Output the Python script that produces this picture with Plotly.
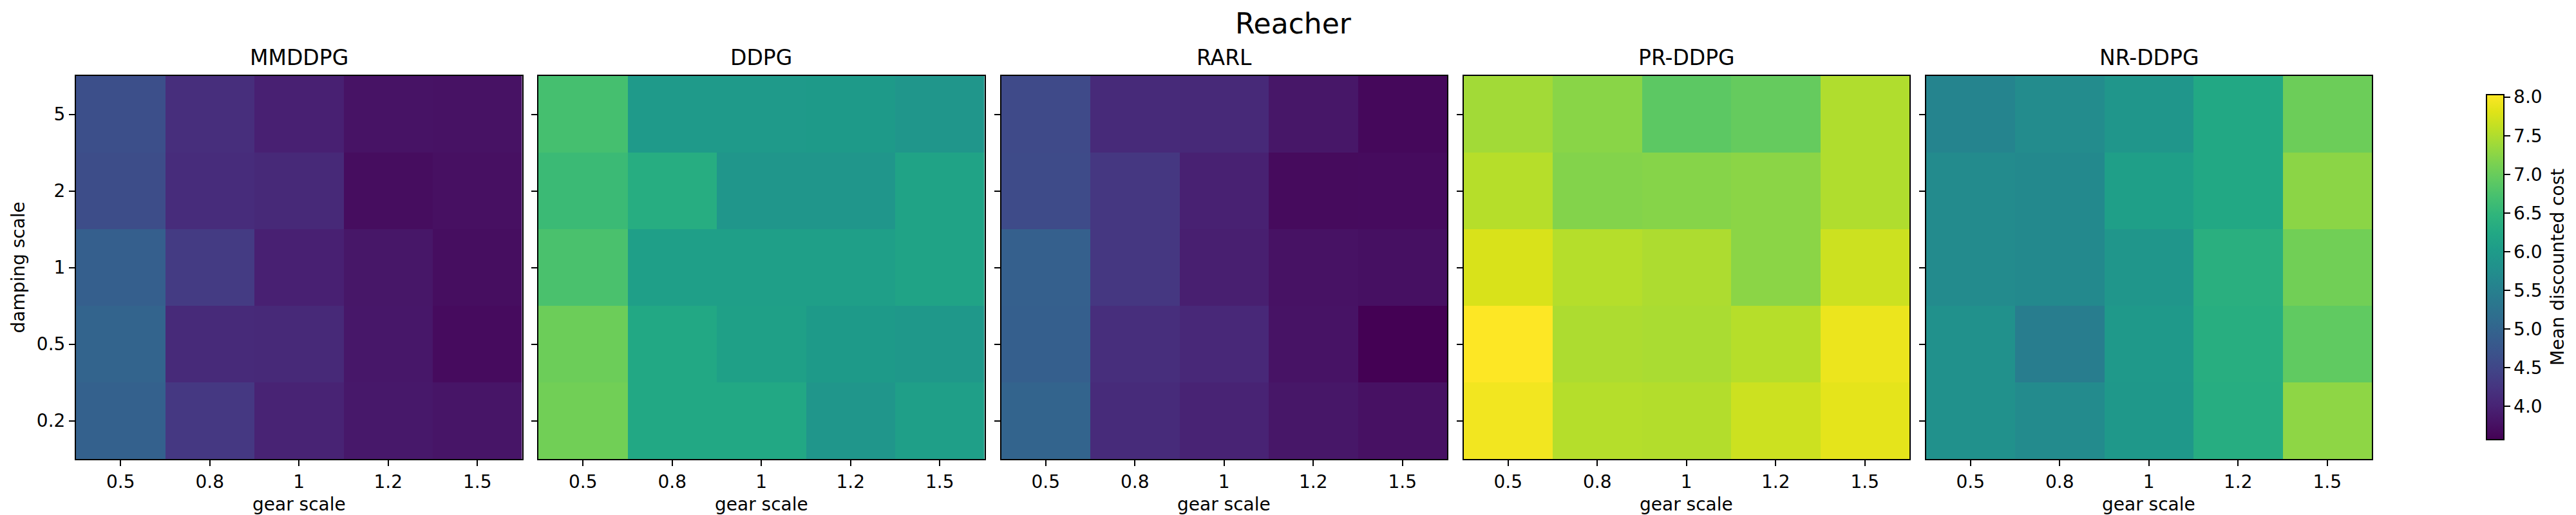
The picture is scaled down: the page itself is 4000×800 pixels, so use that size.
import plotly.graph_objects as go

# ---------------- data ----------------
gear_scale = ["0.5", "0.8", "1", "1.2", "1.5"]
damping_scale = ["0.2", "0.5", "1", "2", "5"]   # bottom -> top
methods = ["MMDDPG", "DDPG", "RARL", "PR-DDPG", "NR-DDPG"]

mmddpg = [
    [4.95, 4.30, 4.00, 3.86, 3.82],
    [5.00, 4.10, 4.08, 3.85, 3.70],
    [4.91, 4.33, 3.97, 3.84, 3.73],
    [4.60, 4.13, 4.08, 3.72, 3.76],
    [4.64, 4.15, 3.97, 3.79, 3.78],
]
ddpg = [
    [7.07, 6.25, 6.25, 5.90, 6.07],
    [7.03, 6.25, 6.10, 5.99, 5.95],
    [6.74, 6.07, 6.07, 6.07, 6.15],
    [6.60, 6.33, 5.90, 5.90, 6.15],
    [6.70, 5.98, 5.98, 5.99, 5.90],
]
rarl = [
    [5.00, 4.12, 4.00, 3.84, 3.77],
    [4.90, 4.15, 4.07, 3.79, 3.57],
    [4.92, 4.28, 3.95, 3.78, 3.75],
    [4.58, 4.28, 3.98, 3.69, 3.70],
    [4.55, 4.10, 4.08, 3.84, 3.66],
]
pr_ddpg = [
    [7.95, 7.53, 7.52, 7.68, 7.85],
    [8.03, 7.48, 7.46, 7.54, 7.90],
    [7.77, 7.53, 7.48, 7.25, 7.68],
    [7.54, 7.20, 7.22, 7.25, 7.50],
    [7.41, 7.24, 6.90, 6.97, 7.50],
]
nr_ddpg = [
    [5.80, 5.70, 5.95, 6.33, 7.27],
    [5.80, 5.45, 5.97, 6.35, 6.93],
    [5.70, 5.67, 5.90, 6.38, 7.07],
    [5.70, 5.67, 6.07, 6.25, 7.25],
    [5.58, 5.71, 5.90, 6.24, 7.03],
]
cbar_ticks = [4.0, 4.5, 5.0, 5.5, 6.0, 6.5, 7.0, 7.5, 8.0]

data = [mmddpg, ddpg, rarl, pr_ddpg, nr_ddpg]
all_vals = [v for z in data for row in z for v in row]
zmin, zmax = min(all_vals), max(all_vals)

# matplotlib viridis sampled every 5 %
viridis_hex = ["#440154", "#471365", "#482475", "#463480", "#414487", "#3b528b",
               "#355f8d", "#2f6c8e", "#2a788e", "#25848e", "#21918c", "#1e9c89",
               "#22a884", "#2fb47c", "#44bf70", "#5ec962", "#7ad151", "#9bd93c",
               "#bddf26", "#dfe318", "#fde725"]
viridis = [[i / (len(viridis_hex) - 1), c] for i, c in enumerate(viridis_hex)]

# ---------------- layout geometry (pixels) ----------------
W, H = 4000, 800


def px(xw):
    return xw / W


def py(yw):
    return 1 - yw / H


FONT = "DejaVu Sans"
panel_left = [110, 828, 1546.5, 2264.5, 2982.5]
panel_w = 692.5
panel_top, panel_bottom = 110, 705

fig = go.Figure()
annotations = []
for i, (name, z) in enumerate(zip(methods, data)):
    ax = "" if i == 0 else str(i + 1)
    fig.add_trace(go.Heatmap(
        x=gear_scale, y=damping_scale, z=z,
        coloraxis="coloraxis", xaxis="x" + ax, yaxis="y" + ax,
        hovertemplate="gear %{x}<br>damping %{y}<br>%{z:.2f}<extra>" + name + "</extra>",
    ))
    x0 = px(panel_left[i])
    x1 = px(panel_left[i] + panel_w)
    common = dict(showline=True, mirror=True, linecolor="black", linewidth=2,
                  ticks="outside", ticklen=9, tickwidth=2, tickcolor="black",
                  showgrid=False, zeroline=False, type="category",
                  tickfont=dict(family=FONT, size=28, color="black"))
    fig.update_layout(**{
        "xaxis" + ax: dict(domain=[x0, x1], anchor="y" + ax, **common),
        "yaxis" + ax: dict(domain=[py(panel_bottom), py(panel_top)],
                           anchor="x" + ax, showticklabels=(i == 0), **common),
    })
    annotations.append(dict(text=name, x=(x0 + x1) / 2, y=py(81),
                            xref="paper", yref="paper", showarrow=False,
                            xanchor="center", yanchor="middle",
                            font=dict(family=FONT, size=33, color="black")))
    annotations.append(dict(text="gear scale", x=(x0 + x1) / 2, y=py(775),
                            xref="paper", yref="paper", showarrow=False,
                            xanchor="center", yanchor="middle",
                            font=dict(family=FONT, size=28, color="black")))

annotations.append(dict(text="damping scale", x=px(20), y=py((panel_top + panel_bottom) / 2),
                        xref="paper", yref="paper", showarrow=False, textangle=-90,
                        xanchor="center", yanchor="middle",
                        font=dict(family=FONT, size=28, color="black")))
annotations.append(dict(text="Reacher", x=px(2000), y=py(28),
                        xref="paper", yref="paper", showarrow=False,
                        xanchor="center", yanchor="middle",
                        font=dict(family=FONT, size=44, color="black")))
annotations.append(dict(text="Mean discounted cost", x=px(3963), y=py(407),
                        xref="paper", yref="paper", showarrow=False, textangle=-90,
                        xanchor="center", yanchor="middle",
                        font=dict(family=FONT, size=28, color="black")))

fig.update_layout(
    width=W, height=H,
    margin=dict(l=0, r=0, t=0, b=0),
    paper_bgcolor="white", plot_bgcolor="white",
    font=dict(family=FONT, color="black"),
    annotations=annotations,
    coloraxis=dict(
        colorscale=viridis, cmin=zmin, cmax=zmax,
        colorbar=dict(
            x=px(3853), xanchor="left", xpad=0,
            y=py(407), yanchor="middle", ypad=0,
            len=(675 - 139) / H, lenmode="fraction",
            thickness=27, thicknessmode="pixels",
            outlinewidth=2, outlinecolor="black",
            ticks="outside", ticklen=9, tickwidth=2, tickcolor="black",
            tickvals=cbar_ticks, ticktext=[f"{v:.1f}" for v in cbar_ticks],
            tickfont=dict(family=FONT, size=28, color="black"),
        ),
    ),
)

fig.write_html("out.html")
